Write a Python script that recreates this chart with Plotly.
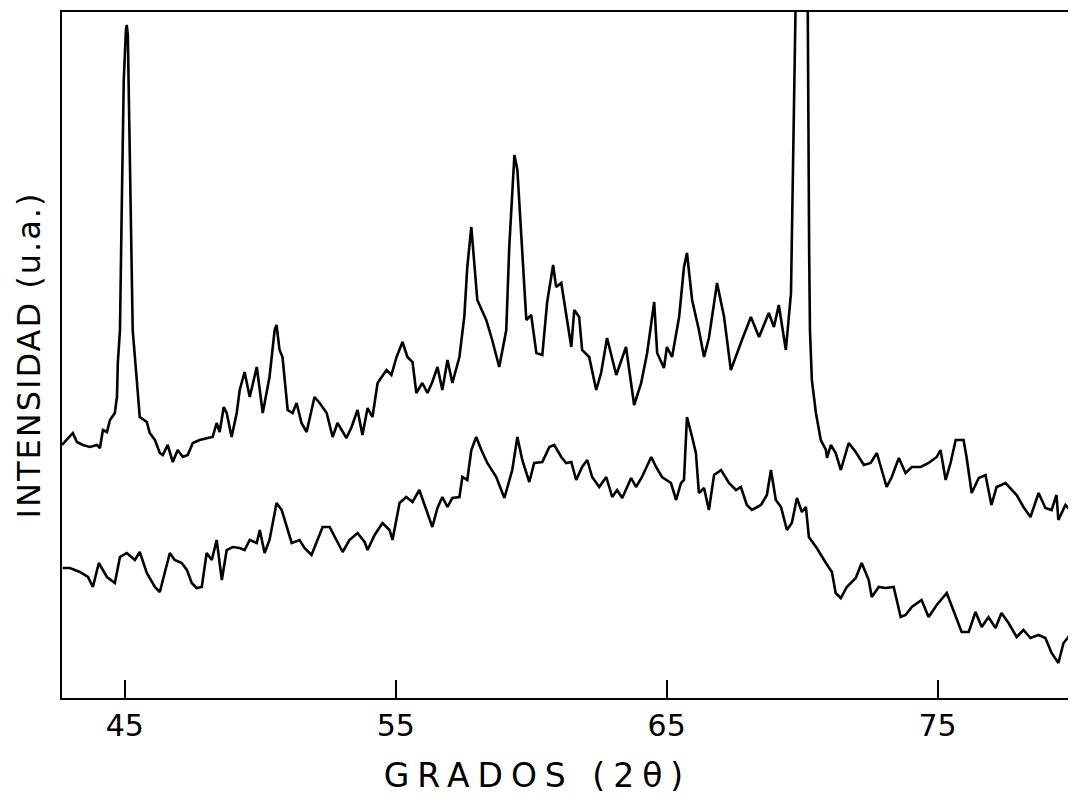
import plotly.graph_objects as go

# ---- Data (2θ in degrees, intensity in arbitrary units) ----
upper_2theta = [
    42.68, 43.08, 43.23, 43.45, 43.71, 43.97, 44.08, 44.19, 44.34, 44.45, 44.63, 44.71, 44.74, 44.82,
    44.89, 44.96, 45.04, 45.07, 45.11, 45.18, 45.26, 45.29, 45.44, 45.55, 45.81, 45.92, 46.11, 46.29,
    46.40, 46.58, 46.77, 46.95, 47.14, 47.32, 47.51, 47.76, 48.06, 48.24, 48.39, 48.50, 48.65, 48.76,
    48.94, 49.13, 49.24, 49.42, 49.61, 49.87, 50.09, 50.34, 50.53, 50.60, 50.71, 50.82, 51.01, 51.19,
    51.34, 51.52, 51.71, 52.00, 52.19, 52.45, 52.67, 52.85, 53.18, 53.37, 53.59, 53.77, 53.96, 54.14,
    54.33, 54.66, 54.84, 55.03, 55.25, 55.43, 55.62, 55.76, 55.98, 56.17, 56.35, 56.54, 56.72, 56.91,
    57.09, 57.35, 57.53, 57.64, 57.79, 58.01, 58.34, 58.56, 58.82, 59.08, 59.19, 59.38, 59.49, 59.63,
    59.82, 60.00, 60.19, 60.41, 60.59, 60.81, 60.92, 61.11, 61.29, 61.48, 61.59, 61.77, 61.88, 62.14,
    62.40, 62.58, 62.80, 63.14, 63.50, 63.80, 64.06, 64.28, 64.54, 64.65, 64.90, 65.01, 65.20, 65.46,
    65.64, 65.75, 65.94, 66.19, 66.38, 66.56, 66.86, 67.12, 67.37, 67.56, 67.78, 68.11, 68.41, 68.77,
    68.96, 69.14, 69.40, 69.59, 69.62, 69.70, 69.81, 69.88, 70.00, 70.10, 70.21, 70.26, 70.29, 70.36,
    70.51, 70.69, 70.88, 70.92, 71.06, 71.24, 71.43, 71.72, 71.98, 72.28, 72.53, 72.76, 73.12, 73.31,
    73.57, 73.82, 74.05, 74.38, 74.67, 74.97, 75.11, 75.30, 75.48, 75.67, 75.96, 76.07, 76.26, 76.52,
    76.77, 76.99, 77.18, 77.51, 77.73, 77.92, 78.17, 78.43, 78.73, 78.98, 79.21, 79.39, 79.46, 79.72,
    80.00,
]
upper_intensity = [
    253, 265, 256, 253, 251, 253, 250, 268, 266, 278, 285, 301, 335, 368,
    498, 618, 668, 673, 663, 548, 398, 368, 318, 281, 276, 265, 258, 245,
    243, 253, 236, 248, 241, 243, 255, 258, 260, 261, 275, 266, 291, 285,
    261, 285, 308, 326, 301, 331, 285, 321, 368, 373, 348, 341, 288, 285,
    295, 275, 266, 301, 295, 285, 261, 275, 260, 271, 288, 263, 290, 281,
    315, 328, 323, 341, 356, 341, 336, 305, 315, 305, 316, 331, 308, 338,
    315, 341, 381, 431, 471, 398, 378, 358, 331, 368, 451, 543, 528, 461,
    378, 383, 345, 343, 396, 433, 411, 415, 385, 351, 388, 381, 348, 341,
    308, 325, 360, 323, 351, 293, 315, 345, 396, 345, 330, 351, 341, 381,
    431, 445, 398, 368, 341, 360, 415, 381, 328, 341, 358, 381, 361, 385,
    371, 393, 348, 405, 448, 545, 684, 898, 1100, 900, 684, 448, 368, 318,
    285, 258, 248, 240, 253, 245, 228, 255, 246, 233, 235, 245, 211, 221,
    240, 225, 231, 231, 235, 241, 248, 218, 235, 258, 258, 241, 205, 220,
    223, 193, 211, 215, 208, 203, 191, 181, 205, 190, 188, 203, 178, 193,
    185,
]

lower_2theta = [
    42.71, 42.97, 43.34, 43.64, 43.82, 44.04, 44.34, 44.63, 44.82, 45.07, 45.37, 45.55, 45.81, 46.11,
    46.29, 46.55, 46.66, 46.84, 47.10, 47.29, 47.47, 47.65, 47.84, 48.02, 48.21, 48.39, 48.58, 48.76,
    48.98, 49.24, 49.42, 49.61, 49.87, 49.98, 50.16, 50.34, 50.60, 50.79, 51.16, 51.45, 51.63, 51.89,
    52.08, 52.30, 52.56, 52.81, 53.04, 53.29, 53.59, 53.85, 53.96, 54.22, 54.51, 54.77, 54.88, 55.14,
    55.39, 55.62, 55.87, 56.13, 56.35, 56.54, 56.72, 56.91, 57.09, 57.35, 57.46, 57.64, 57.79, 57.97,
    58.16, 58.38, 58.71, 59.01, 59.19, 59.30, 59.49, 59.67, 59.93, 60.11, 60.41, 60.67, 60.85, 61.11,
    61.29, 61.48, 61.66, 61.88, 62.07, 62.25, 62.51, 62.77, 62.99, 63.17, 63.36, 63.69, 63.87, 64.09,
    64.43, 64.61, 64.83, 65.16, 65.35, 65.53, 65.64, 65.75, 65.94, 66.08, 66.19, 66.38, 66.56, 66.75,
    67.01, 67.30, 67.56, 67.74, 67.96, 68.15, 68.48, 68.70, 68.85, 69.03, 69.22, 69.44, 69.62, 69.81,
    69.99, 70.14, 70.25, 70.54, 70.88, 71.10, 71.24, 71.43, 71.65, 71.98, 72.20, 72.46, 72.57, 72.83,
    73.09, 73.38, 73.64, 73.82, 74.05, 74.41, 74.67, 74.97, 75.34, 75.59, 75.89, 76.15, 76.40, 76.63,
    76.88, 77.14, 77.36, 77.62, 77.92, 78.17, 78.43, 78.73, 78.98, 79.21, 79.46, 79.65, 79.83, 80.00,
]
lower_intensity = [
    130, 130, 126, 121, 111, 135, 121, 115, 141, 145, 138, 146, 125, 111,
    106, 135, 145, 138, 135, 128, 115, 110, 111, 145, 138, 158, 118, 148,
    151, 150, 148, 158, 155, 168, 145, 158, 195, 188, 155, 158, 150, 143,
    156, 171, 171, 158, 146, 158, 165, 156, 148, 163, 175, 168, 158, 195,
    201, 196, 208, 188, 171, 190, 201, 191, 200, 201, 221, 218, 248, 261,
    248, 235, 221, 200, 218, 228, 261, 238, 216, 235, 236, 251, 253, 241,
    235, 236, 218, 231, 238, 221, 211, 221, 201, 208, 200, 220, 211, 221,
    241, 231, 221, 215, 198, 215, 218, 281, 261, 245, 205, 210, 188, 223,
    228, 215, 208, 211, 193, 188, 193, 203, 228, 198, 191, 168, 175, 200,
    186, 191, 161, 150, 135, 126, 105, 100, 111, 120, 135, 118, 101, 111,
    110, 111, 81, 83, 91, 98, 81, 93, 105, 88, 66, 66, 86, 71,
    81, 70, 85, 75, 61, 68, 60, 63, 60, 45, 35, 55, 61, 70,
]

x_ticks = [45, 55, 65, 75]
x_title = "GRADOS (2θ)"
y_title = "INTENSIDAD (u.a.)"

FONT = "DejaVu Sans"

fig = go.Figure()
line_style = dict(color="black", width=2.6)
fig.add_trace(go.Scatter(x=upper_2theta, y=upper_intensity, mode="lines",
                         line=line_style, showlegend=False))
fig.add_trace(go.Scatter(x=lower_2theta, y=lower_intensity, mode="lines",
                         line=line_style, showlegend=False))

# the page body has an 8px default margin, so the figure is sized/margined to compensate
fig.update_layout(
    width=1068, height=797,
    margin=dict(l=54, r=1, t=4, b=107, pad=0),
    paper_bgcolor="white", plot_bgcolor="white",
    font=dict(family=FONT, color="black"),
)
fig.update_xaxes(
    range=[42.68, 80.0], tickvals=x_ticks, ticktext=[str(t) for t in x_ticks],
    ticks="inside", ticklen=18, tickwidth=2, tickcolor="black",
    showline=True, mirror=True, linewidth=2, linecolor="black",
    showgrid=False, zeroline=False,
    tickfont=dict(size=30, family=FONT), ticklabelstandoff=0,
    title=dict(text=x_title, font=dict(size=33, family=FONT), standoff=22),
)
fig.update_yaxes(
    range=[0, 686], showticklabels=False, ticks="",
    showline=True, mirror=True, linewidth=2, linecolor="black",
    showgrid=False, zeroline=False,
    title=dict(text=y_title, font=dict(size=32, family=FONT), standoff=10),
)

post = """
var xt = document.querySelector('.xtitle');
if (xt) {
  xt.style.letterSpacing = '8px';
  xt.setAttribute('x', parseFloat(xt.getAttribute('x')) - 30);
}
var yt = document.querySelector('.ytitle');
if (yt) { yt.style.letterSpacing = '2px'; }
"""

fig.write_html("out.html", post_script=post)
